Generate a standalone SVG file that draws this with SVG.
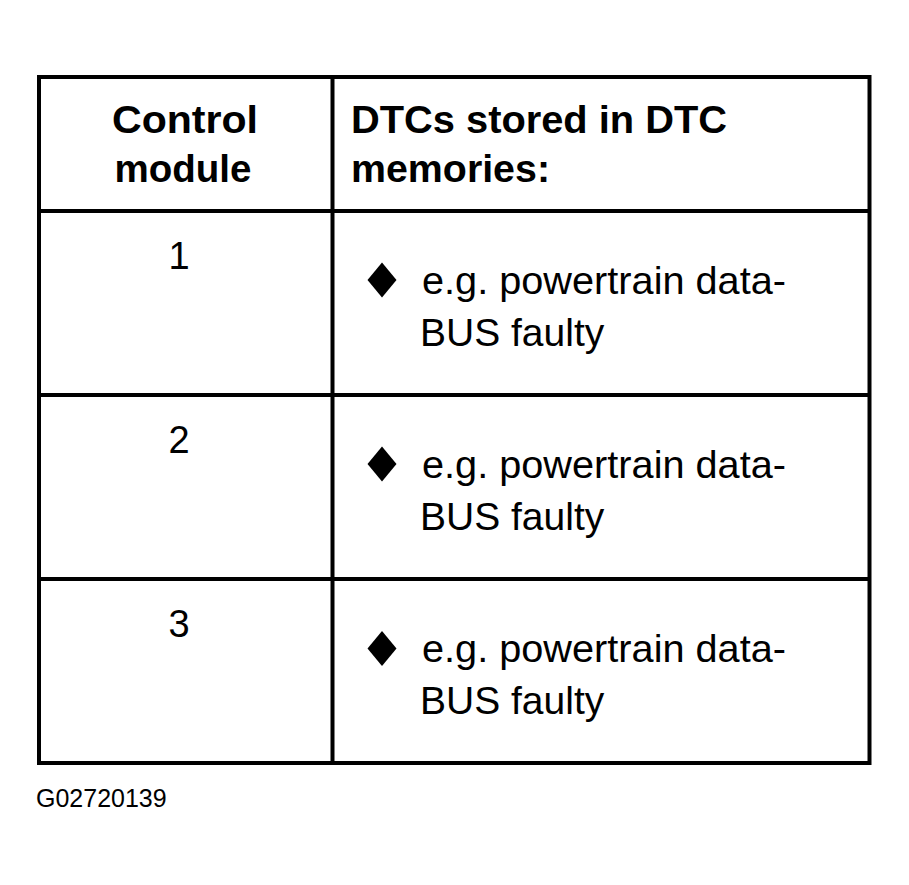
<svg xmlns="http://www.w3.org/2000/svg" width="909" height="885" viewBox="0 0 909 885">
  <style>
    .grid { fill: none; stroke: #000; stroke-width: 4; }
    .hdr { font-family: "Liberation Sans", Arial, Helvetica, sans-serif; font-size: 38px; font-weight: bold; fill: #000; }
    .txt { font-family: "Liberation Sans", Arial, Helvetica, sans-serif; font-size: 39px; fill: #000; }
    .num { font-family: "Liberation Sans", Arial, Helvetica, sans-serif; font-size: 38px; fill: #000; text-anchor: middle; }
    .foot { font-family: "Liberation Sans", Arial, Helvetica, sans-serif; font-size: 25px; fill: #000; }
    .bullet { fill: #000; }
  </style>
  <defs>
    <path id="diamond" d="M0,-17.5 L14.5,0 L0,17.5 L-14.5,0 Z"/>
  </defs>
  <rect width="909" height="885" fill="#fff"/>
  <g id="table-grid">
    <rect class="grid" x="39" y="77" width="830.5" height="686"/>
    <line class="grid" x1="332.5" y1="77" x2="332.5" y2="763"/>
    <line class="grid" x1="39" y1="211" x2="869.5" y2="211"/>
    <line class="grid" x1="39" y1="395" x2="869.5" y2="395"/>
    <line class="grid" x1="39" y1="579" x2="869.5" y2="579"/>
  </g>
  <g id="header-module">
    <text class="hdr" x="185" y="133" text-anchor="middle" textLength="146" lengthAdjust="spacingAndGlyphs">Control</text>
    <text class="hdr" x="183" y="182" text-anchor="middle" textLength="137" lengthAdjust="spacingAndGlyphs">module</text>
  </g>
  <g id="header-dtc">
    <text class="hdr" x="351" y="133" textLength="376" lengthAdjust="spacingAndGlyphs">DTCs stored in DTC</text>
    <text class="hdr" x="351" y="182" textLength="199" lengthAdjust="spacingAndGlyphs">memories:</text>
  </g>
  <g id="row1">
    <text class="num" x="179" y="268.5">1</text>
    <use href="#diamond" class="bullet" x="382" y="280"/>
    <text class="txt" x="422" y="294" textLength="364" lengthAdjust="spacingAndGlyphs">e.g. powertrain data-</text>
    <text class="txt" x="420" y="346">BUS faulty</text>
  </g>
  <g id="row2">
    <text class="num" x="179" y="452.5">2</text>
    <use href="#diamond" class="bullet" x="382" y="464"/>
    <text class="txt" x="422" y="478" textLength="364" lengthAdjust="spacingAndGlyphs">e.g. powertrain data-</text>
    <text class="txt" x="420" y="530">BUS faulty</text>
  </g>
  <g id="row3">
    <text class="num" x="179" y="637">3</text>
    <use href="#diamond" class="bullet" x="382" y="648.5"/>
    <text class="txt" x="422" y="662" textLength="364" lengthAdjust="spacingAndGlyphs">e.g. powertrain data-</text>
    <text class="txt" x="420" y="714">BUS faulty</text>
  </g>
  <g id="connectors"></g>
  <g id="figure-id">
    <text class="foot" x="36" y="806.5">G02720139</text>
  </g>
</svg>
